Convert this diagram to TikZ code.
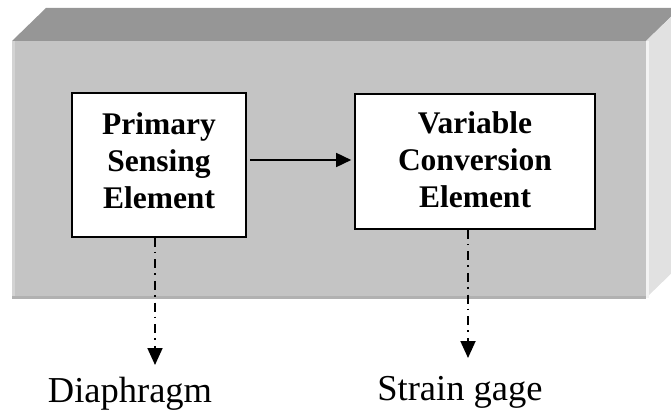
\documentclass[tikz,border=0pt]{standalone}
\usepackage{fontspec}
\setmainfont{Liberation Serif}
\usetikzlibrary{arrows.meta}
\definecolor{topface}{HTML}{969696}
\definecolor{frontface}{HTML}{C4C4C4}
\definecolor{sideface}{HTML}{E1E1E1}
\definecolor{bevellight}{HTML}{D3D3D3}
\definecolor{beveldark}{HTML}{B1B1B1}
\tikzset{
  blockbox/.style={draw=black, line width=1.6pt, fill=white, inner sep=0pt},
  blocktext/.style={inner sep=0pt, align=center, font=\bfseries\fontsize{31.5}{37}\selectfont},
  flow/.style={line width=1.6pt, -{Triangle[length=15pt,width=14pt]}},
  linkdown/.style={line width=1.8pt, dash pattern=on 9pt off 5pt on 1.6pt off 6pt,
    -{Triangle[length=17pt,width=15pt]}},
  caption/.style={anchor=base, inner sep=0pt, font=\fontsize{36.5}{40}\selectfont},
}
\begin{document}
\begin{tikzpicture}[x=1pt, y=-1pt]
  \useasboundingbox (0,0) rectangle (671,411);
  \begin{scope}
    \clip (0,0) rectangle (671,411);
    % bevelled slab: top, right side and front
    \fill[topface] (12,41) -- (46,8) -- (680,8) -- (646,41) -- cycle;
    \fill[sideface] (646,41) -- (680,8) -- (680,265) -- (646,298) -- cycle;
    \fill[white!60!sideface] (646,41) rectangle (648.5,298);
    \fill[frontface] (12,41) rectangle (646,298);
    \fill[bevellight] (12,41) rectangle (15,298);
    \fill[beveldark] (12,295.5) rectangle (646,298.5);
  \end{scope}

  % blocks
  \node[blockbox, minimum width=174pt, minimum height=144pt] (pse) at (159,165) {};
  \node[blocktext] (pset) at (159,161) {Primary\\Sensing\\Element};
  \node[blockbox, minimum width=240pt, minimum height=135pt] (vce) at (475,161.5) {};
  \node[blocktext] (vcet) at (475,159.5) {Variable\\Conversion\\Element};

  % signal path
  \coordinate (mid) at (300,160);
  \draw[flow, shorten <=3pt, shorten >=3pt] (pse.east |- mid) -- (vce.west |- mid);

  % examples
  \node[caption] (dia) at (130,402) {Diaphragm};
  \node[caption] (sg) at (460,400) {Strain gage};
  \coordinate (diatip) at (155,365);
  \coordinate (sgtip) at (468,358);
  \draw[linkdown] (pse.south -| diatip) -- (diatip);
  \draw[linkdown] (vce.south -| sgtip) -- (sgtip);
\end{tikzpicture}
\end{document}
